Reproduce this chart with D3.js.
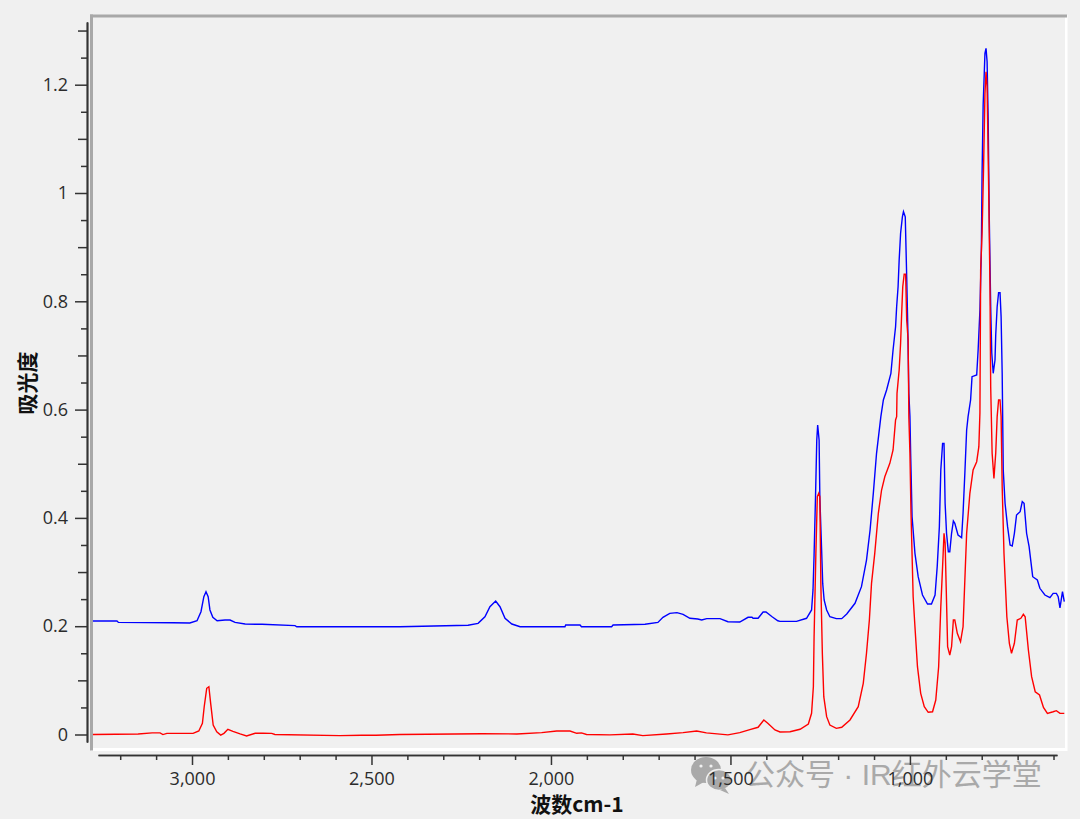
<!DOCTYPE html>
<html><head><meta charset="utf-8">
<script src="https://cdn.jsdelivr.net/npm/d3@7/dist/d3.min.js"></script>
<style>html,body{margin:0;padding:0;background:#f0f0f0;overflow:hidden}svg{display:block}</style>
</head><body><svg id="c" width="1080" height="819"></svg>
<script>
const blueWn=[3276,3209,3205,3053,3006,2986,2975,2967,2961,2955,2950,2942,2930,2908,2894,2880,2852,2805,2713,2708,2421,2231,2203,2184,2170,2154,2142,2128,2109,2086,1961,1959,1919,1915,1831,1827,1738,1702,1688,1669,1649,1632,1613,1591,1580,1566,1529,1507,1474,1451,1440,1437,1423,1409,1401,1384,1368,1362,1316,1288,1274,1270,1267,1263,1259.5,1257,1253,1251,1246,1243,1239,1232,1223,1205,1190,1176,1153,1135,1121,1111,1102,1093,1081,1074,1065,1053,1047,1040,1037,1033,1030,1026,1021,1018,1013,1009,1006,1003,1000,998,994,986,977,965,951,940,930,924,918,914,909,905,902,898,893,889,884,879,875,866,856,852,847,842,838,831,827,814,810,805,801,799,796,791,788,785,782,779,775,772,768,763,761,757,753,749,746,743,740,735,728,721,715,709,703,693,687,682,675,668,658,645,638,624,610,601,592,587,582,575,570];
const blueAbs=[.2096,.2096,.207,.2065,.206,.21,.2268,.2545,.2637,.2545,.23,.2164,.21,.2114,.2114,.207,.204,.2035,.201,.199,.199,.2017,.2053,.2175,.236,.2465,.236,.2146,.204,.199,.199,.2022,.2022,.199,.199,.2022,.2035,.207,.2164,.2238,.225,.222,.2146,.2133,.2114,.2139,.2139,.2083,.2077,.2164,.2164,.2146,.2146,.2262,.2262,.2175,.21,.209,.209,.2146,.23,.267,.3315,.439,.544,.5716,.544,.439,.3407,.279,.2484,.23,.2175,.2139,.2139,.2225,.2423,.273,.3222,.3776,.4454,.5193,.587,.6177,.6362,.667,.71,.753,.79,.827,.876,.9256,.956,.9655,.956,.8455,.753,.63,.587,.5193,.402,.3346,.2914,.2576,.241,.241,.2576,.31,.3838,.4885,.5377,.5377,.427,.3716,.3376,.3376,.3716,.3943,.39,.3684,.3635,.4085,.4824,.5623,.587,.6177,.6608,.664,.71,.784,.8947,1.0364,1.1625,1.2578,1.267,1.2425,1.135,.956,.79,.7045,.667,.6916,.7378,.79,.816,.816,.7716,.667,.4885,.427,.3838,.35,.348,.3716,.4054,.4115,.43,.427,.3716,.347,.2914,.2853,.27,.2576,.2526,.2607,.2607,.2545,.234,.2637,.2453];
const redWn=[3276,3150,3111,3089,3081,3070,2997,2981,2971,2966,2959,2953,2948,2941,2931,2920,2911,2900,2886,2866,2848,2824,2802,2778,2769,2588,2527,2487,2421,2193,2095,2026,1984,1947,1928,1915,1901,1836,1772,1744,1678,1632,1594,1567,1507,1474,1446,1423,1407,1396,1376,1362,1334,1306,1283,1274,1269,1267,1262,1258,1254,1251,1248,1244,1240,1232,1223,1205,1190,1167,1144,1130,1121,1113,1107,1098,1088,1079,1070,1056,1047,1040,1037,1036,1030,1026,1023,1020,1016,1012,1009,1005,1003,1000,997,991,986,979,970,960,949,937,928,920,914,909,905,902,899,895,889,884,879,875,868,859,852,847,842,833,824,814,808,805,803,799,795,791,788,785,781,777,775,771,766,761,757,753,749,746,743,738,730,723,717,709,701,691,684,679,670,661,651,639,628,617,601,592,582,570];
const redAbs=[0,.001,.003,.003,-.0002,.002,.002,.0065,.0207,.0513,.0853,.0883,.0576,.0175,.005,-.001,.0022,.0096,.0059,.001,-.0028,.0022,.0022,.002,0,-.002,-.0015,-.0015,0,.0015,.001,.0034,.0065,.0065,.0022,.003,0,-.0006,.001,-.002,.001,.0034,.0065,.003,-.0006,.0034,.009,.0133,.0268,.0207,.0083,.0046,.005,.0096,.0194,.0391,.0883,.1806,.3346,.4392,.4454,.4392,.273,.15,.0698,.0329,.0175,.0114,.0133,.0268,.0513,.0945,.15,.2114,.279,.3346,.4085,.4515,.476,.5008,.5254,.5808,.587,.63,.673,.7224,.7778,.827,.85,.85,.7655,.7285,.587,.5193,.4085,.2545,.199,.1252,.076,.0513,.041,.042,.0637,.1252,.236,.31,.3716,.3536,.273,.1621,.1468,.1621,.2114,.2114,.1868,.1714,.199,.2853,.3716,.4454,.4885,.5038,.5315,.5937,.8578,.9256,1.0425,1.184,1.2238,1.1963,1.0236,.827,.6423,.5193,.473,.5193,.587,.6177,.6177,.587,.4577,.3346,.2175,.1684,.15,.1684,.2114,.2146,.222,.2175,.156,.1068,.079,.073,.05,.0391,.042,.044,.0391,.0391];
const xMajor=[3000,2500,2000,1500,1000];
const xMinor=[3200,3100,2900,2800,2700,2600,2400,2300,2200,2100,1900,1800,1700,1600,1400,1300,1200,1100,900,800,700,600];
const yMajor=[0,.2,.4,.6,.8,1,1.2];
const yMid=[.1,.3,.5,.7,.9,1.1,1.3];
const yMinor=[.05,.15,.25,.35,.45,.55,.65,.75,.85,.95,1.05,1.15,1.25];
const yLabels=["0","0.2","0.4","0.6","0.8","1","1.2"];
const xTitle="波数cm-1", yTitle="吸光度", watermark="公众号 · IR红外云学堂";

const svg=d3.select("#c");
const L=92,R=1065,T=16,B=750;
const x=d3.scaleLinear().domain([3275.8,568]).range([93,1065]);
const y=d3.scaleLinear().domain([0,1]).range([734.5,193]);
const CJK='"Noto Sans CJK SC","Noto Sans",sans-serif', LAT='"Open Sans","Noto Sans",sans-serif';

// plot frame
svg.append("rect").attr("x",L-1).attr("y",B-2).attr("width",R-L+3).attr("height",3).attr("fill","#fff");
svg.append("rect").attr("x",R).attr("y",T-1).attr("width",2.5).attr("height",B-T+2).attr("fill","#fff");
svg.append("rect").attr("x",L-2).attr("y",T-1.5).attr("width",R-L+4).attr("height",3).attr("fill","#a8a8a8");
svg.append("rect").attr("x",L-2).attr("y",T-1.5).attr("width",3).attr("height",B-T+2).attr("fill","#a8a8a8");

// watermark (under the axis labels)
const wm=svg.append("g").attr("fill","#a9a9a9");
wm.append("ellipse").attr("cx",706).attr("cy",770).attr("rx",15).attr("ry",13);
wm.append("path").attr("d","M697 779 L695 787 L704 782 Z");
wm.append("ellipse").attr("cx",719).attr("cy",780).attr("rx",12.5).attr("ry",10.5).attr("stroke","#f0f0f0").attr("stroke-width",1.5);
wm.append("path").attr("d","M725 788 L729 794 L720 790 Z");
[[701,766],[711,766],[715,778],[723,778]].forEach(p=>svg.append("circle").attr("cx",p[0]).attr("cy",p[1]).attr("r",1.6).attr("fill","#f0f0f0"));
svg.append("text").attr("x",745).attr("y",785).attr("font-family",'"Liberation Sans","Noto Sans CJK SC",sans-serif').attr("font-size",30).attr("fill","#a9a9a9").text(watermark);

// axes via d3-axis
function styleAxis(g){g.selectAll("path").attr("stroke","#333").attr("stroke-width",1.5);g.selectAll("line").attr("stroke","#333").attr("stroke-width",1.5);g.selectAll("text").attr("font-family",LAT).attr("font-size",18).attr("fill","#2b2b2b");}
const axisY=87,axisX=755;
const ya=svg.append("g").attr("transform",`translate(${axisY},0)`);
const yScaleAxis=y.copy().domain([(734.5-742)/541.5,(734.5-22)/541.5]).range([742,22]);
ya.call(d3.axisLeft(yScaleAxis).tickValues(yMajor).tickSize(12).tickSizeOuter(0).tickPadding(7).tickFormat((d,i)=>yLabels[i]));
ya.append("g").call(d3.axisLeft(yScaleAxis).tickValues(yMid).tickSize(9).tickSizeOuter(0).tickFormat(""));
ya.append("g").call(d3.axisLeft(yScaleAxis).tickValues(yMinor).tickSize(6).tickSizeOuter(0).tickFormat(""));
styleAxis(ya);

const xa=svg.append("g").attr("transform",`translate(0,${axisX})`);
const xScaleAxis=x.copy().domain([x.invert(98),x.invert(1057)]).range([98,1057]);
xa.call(d3.axisBottom(xScaleAxis).tickValues(xMajor).tickSize(10).tickSizeOuter(0).tickPadding(7).tickFormat(d3.format(",")));
xa.append("g").call(d3.axisBottom(xScaleAxis).tickValues(xMinor).tickSize(5).tickSizeOuter(0).tickFormat(""));
styleAxis(xa);

// spectra
const line=d3.line().x(d=>x(d[0])).y(d=>y(d[1]));
svg.append("path").datum(d3.zip(blueWn,blueAbs)).attr("d",line).attr("fill","none").attr("stroke","#0000ff").attr("stroke-width",1.4);
svg.append("path").datum(d3.zip(redWn,redAbs)).attr("d",line).attr("fill","none").attr("stroke","#ff0000").attr("stroke-width",1.4);

// titles
svg.append("text").attr("x",577).attr("y",812).attr("text-anchor","middle").attr("font-family",CJK).attr("font-weight",700).attr("font-size",21).attr("fill","#111").text(xTitle);
svg.append("text").attr("transform","translate(35,383) rotate(-90)").attr("text-anchor","middle").attr("font-family",CJK).attr("font-weight",700).attr("font-size",21).attr("fill","#111").text(yTitle);
</script></body></html>
